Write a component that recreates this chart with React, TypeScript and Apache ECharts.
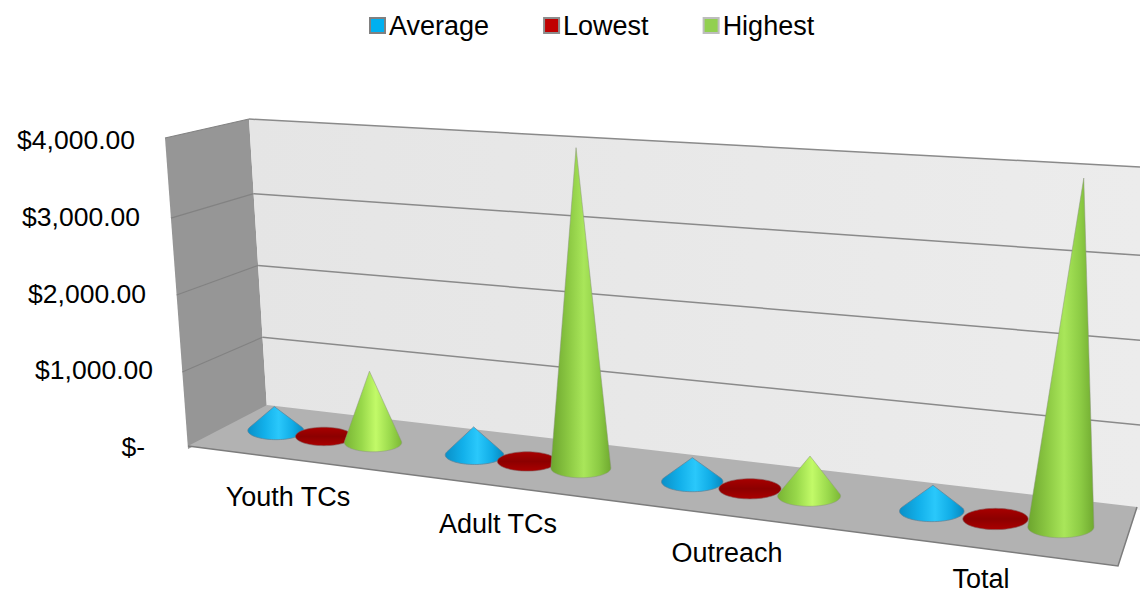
import React, { useEffect, useRef } from "react";
import * as echarts from "echarts";

const categories = ["Youth TCs", "Adult TCs", "Outreach", "Total"];
const average = [320, 358, 293, 300];
const lowest = [8, 10, 10, 10];
const highest = [930, 3990, 475, 3940];
const yTicks = [0, 1000, 2000, 3000, 4000];
const tickLabels = ["$-", "$1,000.00", "$2,000.00", "$3,000.00", "$4,000.00"];
const tickPadding = [13, 5, 12, 18, 23];
const categoryLabelPos = [[288, 497], [498, 524], [727, 553], [981, 579]];

const FONT = '"Liberation Sans", Arial, sans-serif';
const GRID = { left: 160, top: 140, width: 840, height: 307 };

// Floor quad: back-left, back-right, front-right, front-left
const Q = [[267, 405], [1137, 507], [1118, 566], [188, 446]];
const sx = Q[0][0] - Q[1][0] + Q[2][0] - Q[3][0];
const sy = Q[0][1] - Q[1][1] + Q[2][1] - Q[3][1];
const d1x = Q[1][0] - Q[2][0], d1y = Q[1][1] - Q[2][1];
const d2x = Q[3][0] - Q[2][0], d2y = Q[3][1] - Q[2][1];
const det = d1x * d2y - d2x * d1y;
const g = (sx * d2y - d2x * sy) / det;
const h = (d1x * sy - sx * d1y) / det;
const a = Q[1][0] - Q[0][0] + g * Q[1][0], b = Q[3][0] - Q[0][0] + h * Q[3][0];
const d = Q[1][1] - Q[0][1] + g * Q[1][1], e = Q[3][1] - Q[0][1] + h * Q[3][1];
const depthW = (u: number, v: number) => 1 + g * u + h * v;
const project = (u: number, v: number) => {
  const w = depthW(u, v);
  return [(a * u + b * v + Q[0][0]) / w, (d * u + e * v + Q[0][1]) / w];
};

const WALL_SCALE = 0.0717 / (GRID.height / 4000);
const VANISH_X = 670;
const LEAN = 1.68e-4;
const CONE_R = 26.8;
const CONE_RATIO = 0.325;

type Fill = any;
const hGrad = (stops: [number, string][]): Fill =>
  new echarts.graphic.LinearGradient(0, 0, 1, 0, stops.map(([offset, color]) => ({ offset, color })));

const blueFill = hGrad([[0, "#0a90c8"], [0.3, "#12b0ea"], [0.55, "#2ac8fb"], [0.8, "#10ace6"], [1, "#0888bf"]]);
const redFill = new echarts.graphic.LinearGradient(0, 0, 0, 1, [
  { offset: 0, color: "#a80000" }, { offset: 0.5, color: "#8c0000" }, { offset: 1, color: "#aa0000" },
]);
const greenFill = hGrad([[0, "#6ca52e"], [0.3, "#8cc943"], [0.55, "#a9e65a"], [0.8, "#8ccb44"], [1, "#70aa30"]]);
const greenShortFill = hGrad([[0, "#78b434"], [0.3, "#98d84a"], [0.55, "#c2fa68"], [0.8, "#9ad94c"], [1, "#7cb836"]]);

function coneRenderer(seriesOffset: number, fill: Fill, stroke: string, shortFill?: Fill) {
  return (_params: any, api: any) => {
    const i = api.value(0);
    const val = api.value(1);
    const zero = api.coord([i, 0]);
    const top = api.coord([i, val]);
    const band = api.size([1, 0])[0];
    const u = (zero[0] - GRID.left + seriesOffset * band) / GRID.width;
    const v = 0.5;
    const [cx, cy] = project(u, v);
    const rx = CONE_R / depthW(u, v);
    const ry = rx * CONE_RATIO;
    const height = ((zero[1] - top[1]) * WALL_SCALE) / depthW(u, v);
    const tipX = cx + (cx - VANISH_X) * height * LEAN;
    const tipY = cy - height;
    const points: number[][] = [];
    if (height > ry * 1.02) {
      const t = Math.asin(ry / height);
      const n = 48;
      points.push([tipX, tipY]);
      for (let k = 0; k <= n; k++) {
        const ang = -t + ((Math.PI + 2 * t) * k) / n;
        points.push([cx + rx * Math.cos(ang), cy + ry * Math.sin(ang)]);
      }
    } else {
      const n = 64;
      for (let k = 0; k < n; k++) {
        const ang = (2 * Math.PI * k) / n;
        points.push([cx + rx * Math.cos(ang), cy + ry * Math.sin(ang)]);
      }
    }
    return {
      type: "polygon",
      shape: { points },
      style: { fill: shortFill && height < 120 ? shortFill : fill, stroke, lineWidth: 1 },
    };
  };
}

const lerp = (p: number[], q: number[], t: number) => [p[0] + (q[0] - p[0]) * t, p[1] + (q[1] - p[1]) * t];

const WALL = {
  frontBottom: [188, 449], frontTop: [165, 138],
  backBottom: [267, 409], backTop: [249, 119],
  rightBottom: [1140, 510], rightTop: [1140, 167],
};

function frameGraphics() {
  const out: any[] = [];
  out.push({
    type: "polygon", z: 0,
    shape: { points: [WALL.frontTop, WALL.backTop, WALL.backBottom, WALL.frontBottom] },
    style: { fill: "#969696" },
  });
  out.push({
    type: "polygon", z: 0,
    shape: { points: [WALL.backTop, WALL.rightTop, WALL.rightBottom, WALL.backBottom] },
    style: {
      fill: new echarts.graphic.LinearGradient(0, 0, 1, 0, [
        { offset: 0, color: "#e5e5e5" }, { offset: 1, color: "#ececec" },
      ]),
    },
  });
  yTicks.slice(1).forEach((tick) => {
    const t = tick === 4000 ? 1 : (tick / 4000) * 0.99;
    const f = lerp(WALL.frontBottom, WALL.frontTop, t);
    const m = lerp(WALL.backBottom, WALL.backTop, t);
    const r = lerp(WALL.rightBottom, WALL.rightTop, t);
    out.push({
      type: "line", z: 0,
      shape: { x1: f[0], y1: f[1], x2: m[0], y2: m[1] },
      style: { stroke: "#828282", lineWidth: 1.2 },
    });
    out.push({
      type: "line", z: 0,
      shape: { x1: m[0], y1: m[1], x2: r[0], y2: r[1] },
      style: { stroke: "#8a8a8a", lineWidth: 1.5 },
    });
  });
  out.push({
    type: "polygon", z: 1,
    shape: { points: Q },
    style: { fill: "#b2b2b2" },
  });
  out.push({
    type: "polyline", z: 1,
    shape: { points: [Q[3], Q[2], Q[1]] },
    style: { stroke: "#7c7c7c", lineWidth: 1.5, fill: "none" },
  });
  categories.forEach((name, i) => {
    out.push({
      type: "text", z: 5,
      x: categoryLabelPos[i][0], y: categoryLabelPos[i][1],
      style: { text: name, font: `27px ${FONT}`, fill: "#000", align: "center", verticalAlign: "middle" },
    });
  });
  return out;
}

const toRows = (values: number[]) => values.map((value, i) => [i, value]);

export default function App() {
  const ref = useRef<HTMLDivElement>(null);
  useEffect(() => {
    document.body.style.margin = "0";
    document.body.style.overflow = "hidden";
    const chart = echarts.init(ref.current!, null, { renderer: "svg" });
    const rich: Record<string, any> = {};
    tickPadding.forEach((p, i) => {
      rich["p" + i] = { fontSize: 26.5, fontFamily: FONT, color: "#000", padding: [0, p, 0, 0] };
    });
    const makeSeries = (name: string, values: number[], offset: number, fill: Fill, stroke: string, color: string, shortFill?: Fill) => ({
      type: "custom",
      name,
      data: toRows(values),
      encode: { x: 0, y: 1 },
      itemStyle: { color },
      renderItem: coneRenderer(offset, fill, stroke, shortFill),
      z: 3,
    });
    chart.setOption({
      animation: false,
      backgroundColor: "#ffffff",
      grid: { ...GRID },
      graphic: frameGraphics(),
      legend: {
        left: 369,
        top: 12,
        padding: 0,
        itemWidth: 15,
        itemHeight: 15,
        itemGap: 54,
        textStyle: { fontSize: 27, fontFamily: FONT, color: "#000", padding: [0, 0, 0, -1] },
        data: [
          { name: "Average", icon: "rect", itemStyle: { color: "#00b0f0", borderColor: "#808080", borderWidth: 2 } },
          { name: "Lowest", icon: "rect", itemStyle: { color: "#c00000", borderColor: "#8c8c8c", borderWidth: 2 } },
          { name: "Highest", icon: "rect", itemStyle: { color: "#92d050", borderColor: "#bdbdbd", borderWidth: 2 } },
        ],
      },
      xAxis: { type: "category", data: categories, show: false },
      yAxis: {
        type: "value",
        min: 0,
        max: 4000,
        interval: 1000,
        axisLine: { show: false },
        axisTick: { show: false },
        splitLine: { show: false },
        axisLabel: {
          margin: 2,
          formatter: (value: number) => {
            const idx = yTicks.indexOf(value);
            return `{p${idx}|${tickLabels[idx]}}`;
          },
          rich,
        },
      },
      series: [
        makeSeries("Average", average, -0.25, blueFill, "rgba(95,130,150,0.7)", "#00b0f0"),
        makeSeries("Lowest", lowest, 0, redFill, "rgba(130,90,90,0.6)", "#c00000"),
        makeSeries("Highest", highest, 0.25, greenFill, "rgba(140,150,125,0.5)", "#92d050", greenShortFill),
      ],
    });
    return () => chart.dispose();
  }, []);
  return <div ref={ref} style={{ width: 1140, height: 593 }} />;
}
